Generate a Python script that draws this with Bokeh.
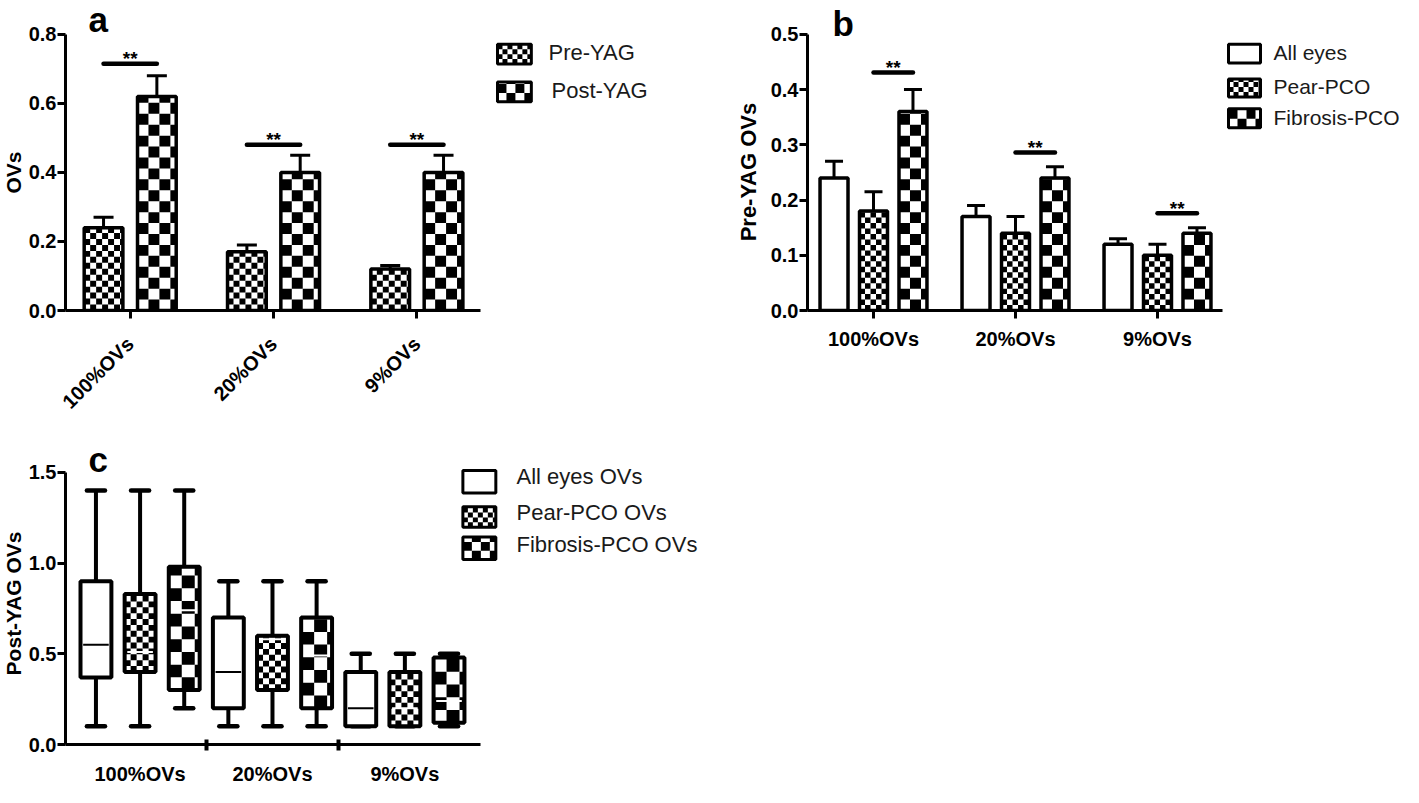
import math
from bokeh.plotting import figure
from bokeh.models import (ColumnDataSource, FixedTicker, Whisker, TeeHead, Label,
                          Range1d, PrintfTickFormatter)
from bokeh.layouts import column, row
from bokeh.embed import file_html
from bokeh.resources import INLINE
from bokeh.core.properties import value

FONT = "Liberation Sans"

# ---------------- data ----------------
groups = ["100%OVs", "20%OVs", "9%OVs"]

# panel a
a_series = ["Pre-YAG", "Post-YAG"]
a_pre_mean = [0.24, 0.17, 0.12]
a_pre_err = [0.03, 0.02, 0.01]
a_post_mean = [0.62, 0.40, 0.40]
a_post_err = [0.06, 0.05, 0.05]
a_sig_y = [0.715, 0.48, 0.48]
a_sig_text = ["**", "**", "**"]
a_yticks = [0.0, 0.2, 0.4, 0.6, 0.8]

# panel b
b_series = ["All eyes", "Pear-PCO", "Fibrosis-PCO"]
b_all_mean = [0.24, 0.17, 0.12]
b_all_err = [0.03, 0.02, 0.01]
b_pear_mean = [0.18, 0.14, 0.10]
b_pear_err = [0.035, 0.03, 0.02]
b_fib_mean = [0.36, 0.24, 0.14]
b_fib_err = [0.04, 0.02, 0.01]
b_sig_y = [0.431, 0.286, 0.176]
b_sig_text = ["**", "**", "**"]
b_yticks = [0.0, 0.1, 0.2, 0.3, 0.4, 0.5]

# panel c (box plots: min, q1, median, q3, max per group)
c_series = ["All eyes OVs", "Pear-PCO OVs", "Fibrosis-PCO OVs"]
c_all_min = [0.10, 0.10, 0.10]
c_all_q1 = [0.37, 0.20, 0.10]
c_all_med = [0.55, 0.40, 0.20]
c_all_q3 = [0.90, 0.70, 0.40]
c_all_max = [1.40, 0.90, 0.50]
c_pear_min = [0.10, 0.10, 0.10]
c_pear_q1 = [0.40, 0.30, 0.10]
c_pear_med = [0.51, 0.58, 0.20]
c_pear_q3 = [0.83, 0.60, 0.40]
c_pear_max = [1.40, 0.90, 0.50]
c_fib_min = [0.20, 0.10, 0.10]
c_fib_q1 = [0.30, 0.20, 0.12]
c_fib_med = [0.74, 0.49, 0.24]
c_fib_q3 = [0.98, 0.70, 0.48]
c_fib_max = [1.40, 0.90, 0.50]
c_yticks = [0.0, 0.5, 1.0, 1.5]

y_titles = ["OVs", "Pre-YAG  OVs", "Post-YAG  OVs"]
panel_tags = ["a", "b", "c"]


# ---------------- layout helpers ----------------
class Frame:
    """pixel geometry of a plot frame (window pixels) -> data / screen units"""
    def __init__(self, left_w, bottom_w, first_w, ppx, ppy, width, height):
        self.left_w, self.bottom_w, self.ppx, self.ppy = left_w, bottom_w, ppx, ppy
        self.x0 = (left_w - first_w) / ppx
        self.x1 = self.x0 + width / ppx
        self.y1 = height / ppy

    def dx(self, wx):
        return self.x0 + (wx - self.left_w) / self.ppx

    def dy(self, wy):
        return (self.bottom_w - wy) / self.ppy

    def sx(self, wx):
        return wx - self.left_w

    def sy(self, wy):
        return self.bottom_w - wy


def checker_cells(left, right, bottom, top, cw, ch):
    L, R, B, T = [], [], [], []
    nx = int(math.ceil((right - left) / cw - 1e-9))
    ny = int(math.ceil((top - bottom) / ch - 1e-9))
    for i in range(nx):
        for j in range(ny):
            if (i + j) % 2 == 1:
                L.append(left + i * cw)
                R.append(min(left + (i + 1) * cw, right))
                B.append(bottom + j * ch)
                T.append(min(bottom + (j + 1) * ch, top))
    return L, R, B, T


def patterned_boxes(p, F, xs, bottoms, tops, width, cell, lw):
    p.vbar(x=xs, bottom=bottoms, top=tops, width=width, fill_color="white", line_color=None)
    if cell:
        L, R, B, T = [], [], [], []
        for x, b, t in zip(xs, bottoms, tops):
            l2, r2, b2, t2 = checker_cells(x - width / 2, x + width / 2, b, t, cell / F.ppx, cell / F.ppy)
            L += l2; R += r2; B += b2; T += t2
        p.quad(left=L, right=R, bottom=B, top=T, fill_color="black", line_color=None)
    p.vbar(x=xs, bottom=bottoms, top=tops, width=width, fill_color=None,
           line_color="black", line_width=lw)


def style(p):
    p.outline_line_color = None
    p.grid.visible = False
    p.background_fill_color = "white"
    p.border_fill_color = "white"
    for ax in p.axis:
        ax.axis_line_width = 3
        ax.axis_line_color = "black"
        ax.major_tick_line_width = 3
        ax.major_tick_line_color = "black"
        ax.major_tick_in = 0
        ax.major_tick_out = 8
        ax.minor_tick_line_color = None
        ax.major_label_text_font = FONT
        ax.major_label_text_font_style = "bold"
        ax.major_label_text_font_size = "20px"
        ax.major_label_text_color = "black"
        ax.major_label_standoff = 1


def add_label(p, text, x, y, size, bold=True, baseline="alphabetic", color="black",
              angle=0.0, align="left"):
    p.add_layout(Label(x=x, y=y, x_units="screen", y_units="screen", text=text,
                       text_font=FONT, text_font_style="bold" if bold else "normal",
                       text_font_size=size, text_color=color, angle=angle,
                       text_align=align, text_baseline=baseline))


def label_fig(width, height, border_bottom, text, cx, cy, size):
    """narrow strip holding a rotated y-axis title; its frame matches the neighbour plot's frame"""
    f = figure(width=width, height=height, output_backend="svg", toolbar_location=None,
               x_range=Range1d(0, 1), y_range=Range1d(0, 1), x_axis_type=None, y_axis_type=None,
               min_border_left=0, min_border_right=0, min_border_top=0,
               min_border_bottom=border_bottom)
    f.outline_line_color = None
    f.background_fill_color = "white"
    f.border_fill_color = "white"
    add_label(f, text, cx, cy, size, angle=math.pi / 2, align="center", baseline="middle")
    return f


def error_bars(p, xs, means, errs, cap):
    src = ColumnDataSource(dict(x=xs, top=means, hi=[m + e for m, e in zip(means, errs)]))
    p.add_layout(Whisker(source=src, base="x", lower="top", upper="hi", dimension="height",
                         line_color="black", line_width=3,
                         upper_head=TeeHead(size=cap, line_width=3, line_color="black"),
                         lower_head=None))


def legend_entry(p, F, label, wx0, wy0, wx1, wy1, cell, text_x, size="22px"):
    xc = (F.dx(wx0) + F.dx(wx1)) / 2
    w = F.dx(wx1) - F.dx(wx0)
    patterned_boxes(p, F, [xc], [F.dy(wy1)], [F.dy(wy0)], w, cell, 3)
    add_label(p, label, F.sx(text_x), F.sy((wy0 + wy1) / 2), size, bold=False,
              baseline="middle", color="#1a1a1a")


def sig_marks(p, x0, x1, ys, texts):
    p.segment(x0=x0, x1=x1, y0=ys, y1=ys, line_width=4.5, line_color="black", line_cap="round")
    p.text(x=[(a + b) / 2 for a, b in zip(x0, x1)], y=ys, text=texts, text_font=value(FONT),
           text_font_style="bold", text_font_size="19px", text_align="center",
           text_baseline="alphabetic", y_offset=-5, text_color="black")


TOP_H = 423      # height of the upper row
BOT_H = 364      # height of the lower row
A_AXIS = 320     # window y of value 0 in panels a and b
LW = 25          # width of the strips holding the y titles of panels a and c

# ---------------- panel a ----------------
FA = Frame(70, A_AXIS, 135, 144, 278 / 0.8, 650, A_AXIS - 8)
pa = figure(width=712 - LW, height=TOP_H, output_backend="svg", toolbar_location=None,
            x_range=Range1d(FA.x0, FA.x1), y_range=Range1d(0, FA.y1),
            min_border_left=62 - LW, min_border_right=0, min_border_top=0,
            min_border_bottom=TOP_H + 8 - A_AXIS)
style(pa)
pa.yaxis.ticker = FixedTicker(ticks=a_yticks)
pa.yaxis.formatter = PrintfTickFormatter(format="%.1f")
pa.yaxis.bounds = (0, a_yticks[-1])
pa.xaxis.ticker = FixedTicker(ticks=list(range(len(groups))))
pa.xaxis.major_label_overrides = {i: g for i, g in enumerate(groups)}
pa.xaxis.major_label_orientation = math.pi / 4
pa.xaxis.major_label_standoff = 22
pa.xaxis.bounds = (FA.x0, FA.dx(487))

off_a = 0.186
xa_pre = [i - off_a for i in range(3)]
xa_post = [i + off_a for i in range(3)]
patterned_boxes(pa, FA, xa_pre, [0, 0, 0], a_pre_mean, 0.27, 6, 3.5)
patterned_boxes(pa, FA, xa_post, [0, 0, 0], a_post_mean, 0.27, 11, 3.5)
error_bars(pa, xa_pre, a_pre_mean, a_pre_err, 20)
error_bars(pa, xa_post, a_post_mean, a_post_err, 20)
sig_marks(pa, xa_pre, xa_post, a_sig_y, a_sig_text)
add_label(pa, panel_tags[0], FA.sx(93), FA.sy(29), "35px")
legend_entry(pa, FA, a_series[0], 504, 52, 538, 72, 5, 553)
legend_entry(pa, FA, a_series[1], 504, 90, 538, 110, 9, 556)
la = label_fig(LW, TOP_H, TOP_H + 8 - A_AXIS, y_titles[0], LW / 2, A_AXIS - 182, "21px")

# ---------------- panel b ----------------
FB = Frame(815, A_AXIS, 881, 142, 278 / 0.5, 596, A_AXIS - 8)
pb = figure(width=636, height=TOP_H, output_backend="svg", toolbar_location=None,
            x_range=Range1d(FB.x0, FB.x1), y_range=Range1d(0, FB.y1),
            min_border_left=40, min_border_right=0, min_border_top=0,
            min_border_bottom=TOP_H + 8 - A_AXIS)
style(pb)
pb.yaxis.ticker = FixedTicker(ticks=b_yticks)
pb.yaxis.formatter = PrintfTickFormatter(format="%.1f")
pb.yaxis.bounds = (0, b_yticks[-1])
pb.xaxis.ticker = FixedTicker(ticks=list(range(len(groups))))
pb.xaxis.major_label_overrides = {i: g for i, g in enumerate(groups)}
pb.xaxis.major_label_standoff = 9
pb.xaxis.bounds = (FB.x0, FB.dx(1230))

off_b = 0.278
xb_all = [i - off_b for i in range(3)]
xb_pear = [float(i) for i in range(3)]
xb_fib = [i + off_b for i in range(3)]
patterned_boxes(pb, FB, xb_all, [0, 0, 0], b_all_mean, 0.197, 0, 3.5)
patterned_boxes(pb, FB, xb_pear, [0, 0, 0], b_pear_mean, 0.197, 5.5, 3.5)
patterned_boxes(pb, FB, xb_fib, [0, 0, 0], b_fib_mean, 0.197, 11, 3.5)
error_bars(pb, xb_all, b_all_mean, b_all_err, 18)
error_bars(pb, xb_pear, b_pear_mean, b_pear_err, 18)
error_bars(pb, xb_fib, b_fib_mean, b_fib_err, 18)
sig_marks(pb, xb_pear, xb_fib, b_sig_y, b_sig_text)
add_label(pb, panel_tags[1], FB.sx(840), FB.sy(33), "35px")
legend_entry(pb, FB, b_series[0], 1236, 52, 1268, 71, 0, 1281, "21px")
legend_entry(pb, FB, b_series[1], 1236, 87, 1268, 105, 5, 1281, "21px")
legend_entry(pb, FB, b_series[2], 1236, 117, 1268, 136, 9, 1281, "21px")
lb = label_fig(55, TOP_H, TOP_H + 8 - A_AXIS, y_titles[1], 35.5, A_AXIS - 178.5, "22px")

# ---------------- panel c ----------------
C_TOP = 8 + TOP_H           # window y of the lower row
C_AXIS = 759                # window y of the value 0
SH = -11                    # vertical shift of panel c relative to the reference
FC = Frame(72, C_AXIS, 102.5, 44.2, 278 / 1.5, 648, C_AXIS - C_TOP)
pc = figure(width=712 - LW, height=BOT_H, output_backend="svg", toolbar_location=None,
            x_range=Range1d(FC.x0, FC.x1), y_range=Range1d(0, FC.y1),
            min_border_left=64 - LW, min_border_right=0, min_border_top=0,
            min_border_bottom=C_TOP + BOT_H - C_AXIS)
style(pc)
pc.yaxis.ticker = FixedTicker(ticks=c_yticks)
pc.yaxis.formatter = PrintfTickFormatter(format="%.1f")
pc.yaxis.bounds = (0, c_yticks[-1])
pc.xaxis.ticker = FixedTicker(ticks=[3 * g + 1 for g in range(3)], minor_ticks=[2.5, 5.5])
pc.xaxis.major_label_overrides = {3 * g + 1: name for g, name in enumerate(groups)}
pc.xaxis.major_tick_out = 0
pc.xaxis.minor_tick_line_color = "black"
pc.xaxis.minor_tick_line_width = 4
pc.xaxis.minor_tick_in = 5
pc.xaxis.minor_tick_out = 6
pc.xaxis.major_label_standoff = 12
pc.xaxis.bounds = (FC.x0, FC.dx(488))

c_sets = [
    (c_all_min, c_all_q1, c_all_med, c_all_q3, c_all_max, 0, "black"),
    (c_pear_min, c_pear_q1, c_pear_med, c_pear_q3, c_pear_max, 6, "white"),
    (c_fib_min, c_fib_q1, c_fib_med, c_fib_q3, c_fib_max, 13, "white"),
]
box_w = 0.70
cap_h = 0.205
for s, (mn, q1, md, q3, mx, cell, medc) in enumerate(c_sets):
    xs = [3 * g + s for g in range(3)]
    pc.segment(x0=xs, x1=xs, y0=q3, y1=mx, line_width=4, line_color="black")
    pc.segment(x0=xs, x1=xs, y0=mn, y1=q1, line_width=4, line_color="black")
    pc.segment(x0=[x - cap_h for x in xs], x1=[x + cap_h for x in xs], y0=mx, y1=mx,
               line_width=4.5, line_color="black", line_cap="round")
    pc.segment(x0=[x - cap_h for x in xs], x1=[x + cap_h for x in xs], y0=mn, y1=mn,
               line_width=4.5, line_color="black", line_cap="round")
    patterned_boxes(pc, FC, xs, q1, q3, box_w, cell, 4)
    pc.segment(x0=[x - box_w / 2 + 0.06 for x in xs], x1=[x + box_w / 2 - 0.06 for x in xs],
               y0=md, y1=md, line_width=2, line_color=medc)

add_label(pc, panel_tags[2], FC.sx(95), FC.sy(485 + SH), "35px")
legend_entry(pc, FC, c_series[0], 470, 490 + SH, 503, 513 + SH, 0, 523)
legend_entry(pc, FC, c_series[1], 470, 527 + SH, 503, 548 + SH, 5, 523)
legend_entry(pc, FC, c_series[2], 470, 558 + SH, 503, 581 + SH, 9, 523)
lc = label_fig(LW, BOT_H, C_TOP + BOT_H - C_AXIS, y_titles[2], LW / 2, C_AXIS - (626 + SH), "21px")

layout = column(row(la, pa, lb, pb), row(lc, pc))
open("out.html", "w").write(file_html(layout, INLINE, "chart"))
